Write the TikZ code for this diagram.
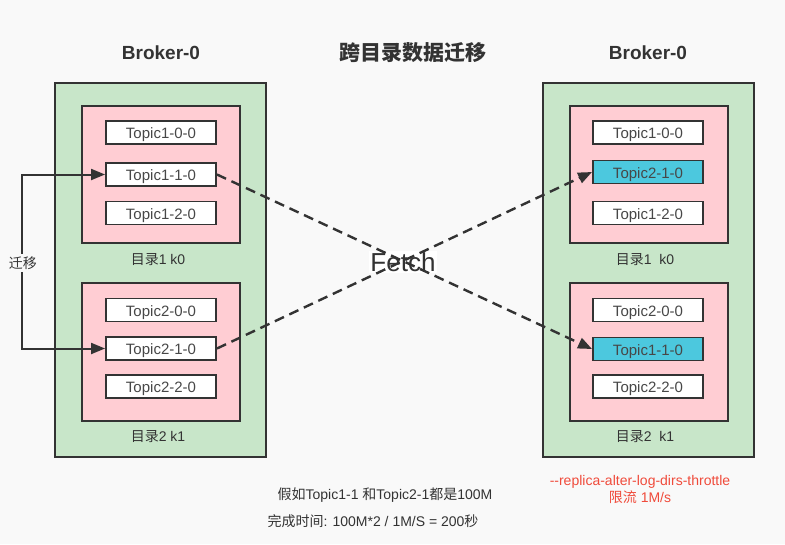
\documentclass[tikz,border=0pt]{standalone}
\usepackage{fontspec}
\setmainfont{Liberation Sans}
\newfontfamily\cjk{Noto Sans CJK SC}
\usetikzlibrary{arrows.meta,positioning,calc}
\definecolor{bg}{HTML}{F9F9F9}
\definecolor{brokergreen}{HTML}{C8E6C9}
\definecolor{dirpink}{HTML}{FFCDD3}
\definecolor{movedcyan}{HTML}{4CC8DE}
\definecolor{linegray}{HTML}{333333}
\definecolor{throttlered}{HTML}{F04B3B}

\begin{document}
\begin{tikzpicture}[x=1pt,y=-1pt,
    broker/.style={draw=linegray, line width=1.9pt, fill=brokergreen},
    dirbox/.style={draw=linegray, line width=1.9pt, fill=dirpink},
    topic/.style={draw=linegray, line width=1.9pt, fill=white, minimum width=110pt, minimum height=23pt, inner sep=0pt,
        text height=12.6pt, text depth=0pt, text=linegray!90!white, font=\fontsize{15}{15}\selectfont},
    moved/.style={topic, fill=movedcyan},
    dirlabel/.style={text=linegray, font=\fontsize{14}{14}\selectfont},
    title/.style={text=linegray, font=\fontsize{19}{19}\selectfont\bfseries},
    fetchline/.style={draw=linegray, line width=2.4pt, dash pattern=on 10pt off 6pt, -{Triangle[length=14pt,width=11pt]}},
    migrate/.style={draw=linegray, line width=2pt, {Triangle[length=14pt,width=11pt]}-{Triangle[length=14pt,width=11pt]}}]
\fill[bg] (0,0) rectangle (785,544);
\useasboundingbox (0,0) rectangle (785,544);

% titles
\node[title] (leftbroker) at (161,53) {Broker-0};
\node[title, font=\fontsize{21}{21}\selectfont\cjk\bfseries] (maintitle) at (413,53) {跨目录数据迁移};
\node[title] (rightbroker) at (648,53) {Broker-0};

% brokers and directories
\foreach \xpos in {55,543}{
    \draw[broker] (\xpos,83) rectangle ++(211,374);
    \draw[dirbox] (\xpos+27,106) rectangle ++(158,137);
    \draw[dirbox] (\xpos+27,283) rectangle ++(158,138);
}
\node[dirlabel] (ldir1) at (158,260) {{\cjk 目录}1 k0};
\node[dirlabel] (ldir2) at (158,437) {{\cjk 目录}2 k1};
\node[dirlabel] (rdir1) at (645,260) {{\cjk 目录}1\ \ k0};
\node[dirlabel] (rdir2) at (645,437) {{\cjk 目录}2\ \ k1};

% topic partitions
\foreach \name/\txt/\ypos in {l10/Topic1-0-0/132.5, l11/Topic1-1-0/174.5, l12/Topic1-2-0/213,
    l20/Topic2-0-0/310, l21/Topic2-1-0/348.5, l22/Topic2-2-0/386.5}{
    \node[topic] (\name) at (161,\ypos) {\txt};
}
\foreach \name/\txt/\ypos in {r10/Topic1-0-0/132.5, r12/Topic1-2-0/213,
    r20/Topic2-0-0/310, r22/Topic2-2-0/386.5}{
    \node[topic] (\name) at (648,\ypos) {\txt};
}
\node[moved] (r11) at (648,172) {Topic2-1-0};
\node[moved] (r21) at (648,349) {Topic1-1-0};

% fetch
\node[fill=white, inner sep=1pt, text=linegray, font=\fontsize{26}{26}\selectfont] (fetch) at (403,262) {Fetch};
\draw[fetchline] (l11.east) -- (r21.west);
\draw[fetchline] (l21.east) -- (r11.west);

% migration inside broker
\draw[migrate] (l11.west) -- ++(-83,0) |- (l21.west);
\node[fill=bg, inner sep=3pt, text=linegray, font=\fontsize{14}{14}\selectfont\cjk] (miglabel) at (23,263) {迁移};

% notes
\node[text=throttlered, font=\fontsize{14}{17}\selectfont, align=center] (throttle) at (640,489)
    {-\kern0pt-replica-alter-log-dirs-throttle\\{\cjk 限流} 1M/s};
\node[text=linegray, font=\fontsize{14}{14}\selectfont] (assume) at (385,495) {{\cjk 假如}Topic1-1 {\cjk 和}Topic2-1{\cjk 都是}100M};
\node[text=linegray, font=\fontsize{14}{14}\selectfont] (finish) at (373,521) {{\cjk 完成时间}: 100M*2 / 1M/S = 200{\cjk 秒}};
\end{tikzpicture}
\end{document}
